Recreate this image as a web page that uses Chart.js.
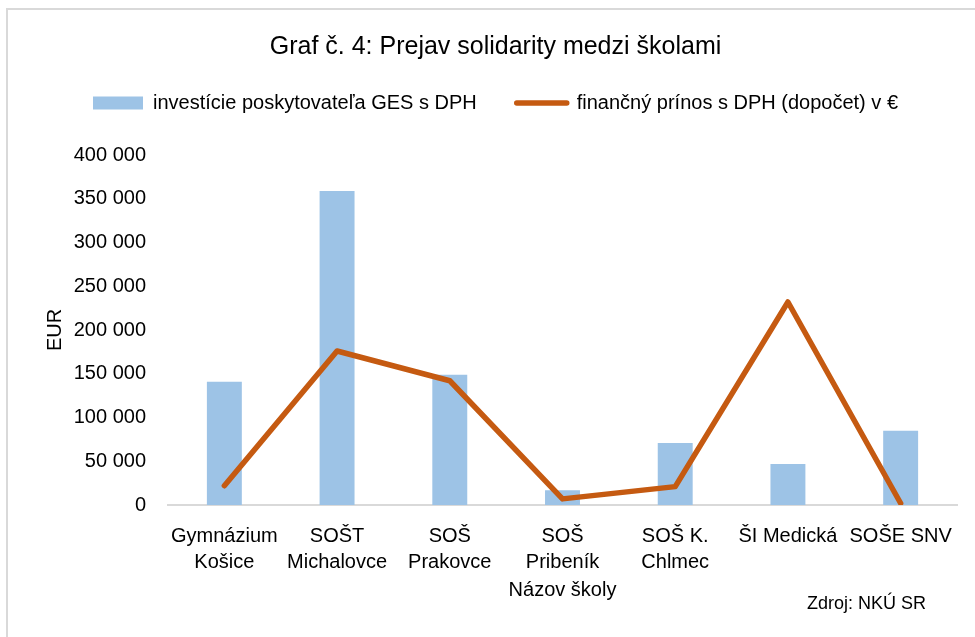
<!DOCTYPE html>
<html>
<head>
<meta charset="utf-8">
<script src="https://cdn.jsdelivr.net/npm/chart.js@4.4.1/dist/chart.umd.min.js"></script>
<style>
html,body{margin:0;padding:0;background:#fff;}
#wrap{position:relative;width:975px;height:637px;}
</style>
</head>
<body>
<div id="wrap"><canvas id="c" width="975" height="637"></canvas></div>
<script>
const categories = [
  ["Gymnázium", "Košice"],
  ["SOŠT", "Michalovce"],
  ["SOŠ", "Prakovce"],
  ["SOŠ", "Pribeník"],
  ["SOŠ K.", "Chlmec"],
  "ŠI Medická",
  "SOŠE SNV"
];
const investicie = [141000, 359000, 149000, 17000, 71000, 47000, 85000];
const prinos = [22000, 176000, 142000, 7000, 21000, 232000, 2000];
const seriesNames = ["investície poskytovateľa GES s DPH", "finančný prínos s DPH (dopočet) v €"];
const chartTitle = "Graf č. 4: Prejav solidarity medzi školami";
const yTitle = "EUR";
const xTitle = "Názov školy";
const sourceNote = "Zdroj: NKÚ SR";

const FONT = "'Liberation Sans', Arial, sans-serif";
const BLUE = '#9dc3e6';
const ORANGE = '#c55a11';

const frame = {
  id: 'frame',
  beforeUpdate(chart) {
    const lg = chart.legend;
    if (lg && !lg._gapPatched) {
      const fit = lg.fit;
      lg.fit = function () { fit.apply(this, arguments); this.height += 32; };
      lg._gapPatched = true;
    }
  },
  beforeDraw(chart) {
    const ctx = chart.ctx;
    ctx.save();
    ctx.strokeStyle = '#d9d9d9';
    ctx.lineWidth = 2;
    ctx.beginPath();
    ctx.moveTo(7, 640);
    ctx.lineTo(7, 9);
    ctx.lineTo(980, 9);
    ctx.stroke();
    ctx.restore();
  },
  afterDraw(chart) {
    const ctx = chart.ctx;
    ctx.save();
    ctx.fillStyle = '#000';
    ctx.font = "18px " + FONT;
    ctx.textAlign = 'right';
    ctx.textBaseline = 'middle';
    ctx.fillText(sourceNote, 926, 604);
    ctx.restore();
  }
};

new Chart(document.getElementById('c'), {
  data: {
    labels: categories,
    datasets: [
      {
        type: 'line',
        label: seriesNames[1],
        data: prinos,
        borderColor: ORANGE,
        backgroundColor: ORANGE,
        borderWidth: 5.5,
        pointRadius: 0,
        borderCapStyle: 'round',
        borderJoinStyle: 'round',
        tension: 0,
        order: 0
      },
      {
        type: 'bar',
        label: seriesNames[0],
        data: investicie,
        backgroundColor: BLUE,
        borderWidth: 0,
        barPercentage: 0.31,
        categoryPercentage: 1,
        order: 1
      }
    ]
  },
  options: {
    responsive: false,
    animation: false,
    devicePixelRatio: 1,
    layout: { padding: { left: 34, right: 18, top: 0, bottom: 31 } },
    plugins: {
      title: {
        display: true,
        text: chartTitle,
        color: '#000',
        font: { family: FONT, size: 25, weight: 'normal' },
        padding: { top: 32, bottom: -9 }
      },
      legend: {
        display: true,
        position: 'top',
        labels: {
          color: '#000',
          font: { family: FONT, size: 20 },
          usePointStyle: true,
          pointStyleWidth: 50,
          boxHeight: 13,
          padding: 40,
          generateLabels(chart) {
            return [
              { text: seriesNames[0], fillStyle: BLUE, strokeStyle: BLUE, lineWidth: 0, pointStyle: 'rect', datasetIndex: 1, fontColor: '#000' },
              { text: seriesNames[1], fillStyle: ORANGE, strokeStyle: ORANGE, lineWidth: 5.5, lineCap: 'round', pointStyle: 'line', datasetIndex: 0, fontColor: '#000' }
            ];
          }
        }
      },
      tooltip: { enabled: false }
    },
    scales: {
      x: {
        offset: true,
        grid: { display: false },
        border: { display: true, color: '#d9d9d9', width: 2 },
        ticks: {
          color: '#000',
          font: { family: FONT, size: 20, lineHeight: 1.3 },
          padding: 10,
          maxRotation: 0,
          autoSkip: false
        },
        title: {
          display: true,
          text: xTitle,
          color: '#000',
          font: { family: FONT, size: 20 },
          padding: { top: -7, bottom: 4 }
        }
      },
      y: {
        min: 0,
        max: 400000,
        grid: { display: false },
        border: { display: false },
        ticks: {
          stepSize: 50000,
          color: '#000',
          font: { family: FONT, size: 20 },
          padding: 14,
          callback: v => String(v).replace(/\B(?=(\d{3})+(?!\d))/g, ' ')
        },
        title: {
          display: true,
          text: yTitle,
          color: '#000',
          font: { family: FONT, size: 20 },
          padding: { top: 9, bottom: 0 }
        },
        afterFit(scale) { scale.width = 134; }
      }
    }
  },
  plugins: [frame]
});
</script>
</body>
</html>
